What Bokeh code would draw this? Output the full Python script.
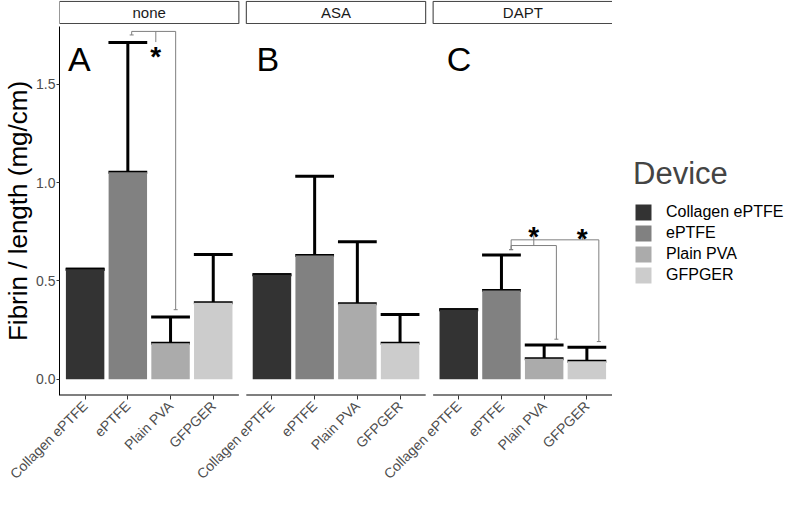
import math
from bokeh.plotting import figure
from bokeh.models import (ColumnDataSource, Range1d, FixedTicker, PrintfTickFormatter,
                          Whisker, TeeHead, Legend, LegendItem)
from bokeh.layouts import gridplot
from bokeh.core.properties import value
from bokeh.embed import file_html
from bokeh.resources import INLINE

# ---------------- data ----------------
devices = ["Collagen ePTFE", "ePTFE", "Plain PVA", "GFPGER"]
device_colors = ["#333333", "#818181", "#ABABAB", "#CCCCCC"]
treatments = ["none", "ASA", "DAPT"]
panel_letters = ["A", "B", "C"]
letter_x = [0.60, 0.64, 0.72]
letter_y = [1.63, 1.63, 1.63]

mean_none = [0.560, 1.052, 0.183, 0.389]
upper_none = [0.560, 1.712, 0.317, 0.634]
mean_asa = [0.532, 0.629, 0.384, 0.183]
upper_asa = [0.532, 1.032, 0.699, 0.330]
mean_dapt = [0.354, 0.451, 0.105, 0.092]
upper_dapt = [0.354, 0.632, 0.175, 0.163]
means = [mean_none, mean_asa, mean_dapt]
uppers = [upper_none, upper_asa, upper_dapt]

y_ticks = [0.0, 0.5, 1.0, 1.5]
y_title = "Fibrin / length (mg/cm)"
legend_title = "Device"

# significance brackets (positions within a panel)
br_panel = ["none", "DAPT", "DAPT"]
br_x0 = [2.09, 2.227, 2.227]
br_x1 = [3.12, 3.286, 4.28]
br_y = [1.768, 0.680, 0.709]
br_left_tip = [1.750, 0.659, 0.659]
br_right_end = [0.354, 0.204, 0.192]
br_mid_x = [2.655, 2.757, 3.893]
br_mid_end = [1.714, 0.732, 0.737]
star_y = [1.674, 0.762, 0.751]
star_label = ["*", "*", "*"]

# ---------------- layout ----------------
FONT = "Liberation Sans"
PANEL_PX = 181          # width of one facet panel
GAP_PX = 7.5            # gap between facet panels
LEFT = 54
FH = 374
BOT = 90
TOP = 2
STRIP_H = 24
LEG_W = 172

n = len(devices)
pad = 0.6                        # discrete axis expansion
span = n - 1 + 2 * pad           # panel width in data units
unit_px = PANEL_PX / span
gap = GAP_PX / unit_px
stride = span + gap
x_start = 1 - pad
x_end = x_start + len(treatments) * span + (len(treatments) - 1) * gap
frame_w = int(round((x_end - x_start) * unit_px))
fig_w = LEFT + frame_w

xr = Range1d(x_start, x_end)
yr = Range1d(-0.082, 1.793)
ppu = FH / (yr.end - yr.start)


def px(k, xloc):
    return k * stride + xloc


# ---- strip figure ----
strip = figure(width=fig_w, height=STRIP_H, x_range=xr, y_range=Range1d(-0.04, 1.04),
               toolbar_location=None, output_backend="svg",
               x_axis_location=None, y_axis_location=None,
               min_border_left=LEFT, min_border_right=0, min_border_top=0, min_border_bottom=0)
strip.grid.visible = False
strip.outline_line_color = None
strip.quad(left=[px(k, x_start) for k in range(len(treatments))],
           right=[px(k, x_start + span) for k in range(len(treatments))],
           bottom=0, top=1, fill_color="white", line_color="#333333", line_width=1)
strip.text(x=[px(k, x_start + span / 2) for k in range(len(treatments))], y=[0.5] * len(treatments),
           text=treatments, text_align="center", text_baseline="middle",
           text_font=value(FONT), text_font_size="15px", text_color="#1a1a1a")

# ---- main figure ----
p = figure(width=fig_w, height=TOP + FH + BOT, x_range=xr, y_range=yr,
           toolbar_location=None, output_backend="svg",
           min_border_left=LEFT, min_border_right=0, min_border_top=TOP, min_border_bottom=BOT)
p.grid.visible = False
p.outline_line_color = None

all_ticks, all_labels = [], []
for k, t in enumerate(treatments):
    xs = [px(k, i + 1) for i in range(n)]
    all_ticks += xs
    all_labels += devices
    src = ColumnDataSource(dict(x=xs, device=devices, mean=means[k], upper=uppers[k],
                                color=device_colors))
    p.vbar(x="x", top="mean", bottom=0, width=0.9, fill_color="color",
           line_color=None, source=src)
    p.add_layout(Whisker(source=src, base="x", lower="mean", upper="upper",
                         line_color="black", line_width=3,
                         upper_head=TeeHead(size=0.9 * unit_px, line_color="black", line_width=3),
                         lower_head=TeeHead(size=0.9 * unit_px, line_color="black", line_width=3)))
    # panel axis line
    p.segment(x0=[px(k, x_start)], y0=[yr.start], x1=[px(k, x_start + span)], y1=[yr.start],
              line_color="black", line_width=2)
    # panel letter
    p.text(x=[px(k, letter_x[k])], y=[letter_y[k]], text=[panel_letters[k]], text_align="left",
           text_baseline="alphabetic", text_font=value(FONT), text_font_size="34px",
           text_color="black")

# significance brackets
sx0, sy0, sx1, sy1 = [], [], [], []
stx, sty = [], []
tipx, tipy = [], []
for b in range(len(br_panel)):
    k = treatments.index(br_panel[b])
    x0, x1, xm = px(k, br_x0[b]), px(k, br_x1[b]), px(k, br_mid_x[b])
    sx0 += [x0, x0, x1, xm]
    sy0 += [br_y[b]] * 4
    sx1 += [x1, x0, x1, xm]
    sy1 += [br_y[b], br_left_tip[b], br_right_end[b], br_mid_end[b]]
    tipx += [x0, x1]
    tipy += [br_left_tip[b], br_right_end[b]]
    stx.append(xm)
    sty.append(star_y[b] - 7.0 / ppu)
p.segment(x0=sx0, y0=sy0, x1=sx1, y1=sy1, line_color="#7f7f7f", line_width=1)
p.scatter(x=tipx, y=tipy, marker="dash", size=4, line_color="#7f7f7f", line_width=1)
p.text(x=stx, y=sty, text=star_label, text_align="center", text_baseline="middle",
       text_font=value(FONT), text_font_size="28px", text_font_style="bold", text_color="black")

# x axis
p.xaxis.ticker = FixedTicker(ticks=all_ticks)
p.xaxis.major_label_overrides = {x: d for x, d in zip(all_ticks, all_labels)}
p.xaxis.major_label_orientation = math.pi / 4
p.xaxis.major_label_text_font = FONT
p.xaxis.major_label_text_font_size = "14px"
p.xaxis.major_label_text_color = "#4d4d4d"
p.xaxis.major_label_standoff = 4
p.xaxis.axis_line_color = None
p.xaxis.major_tick_line_color = "#333333"
p.xaxis.major_tick_out = 4
p.xaxis.major_tick_in = 0
p.xaxis.minor_tick_line_color = None

# y axis
p.yaxis.ticker = FixedTicker(ticks=y_ticks)
p.yaxis.formatter = PrintfTickFormatter(format="%.1f")
p.yaxis.axis_label = y_title
p.yaxis.axis_label_text_font = FONT
p.yaxis.axis_label_text_font_size = "26px"
p.yaxis.axis_label_text_font_style = "normal"
p.yaxis.axis_label_text_color = "black"
p.yaxis.axis_label_standoff = 0
p.yaxis.major_label_text_font = FONT
p.yaxis.major_label_text_font_size = "14px"
p.yaxis.major_label_text_color = "#4d4d4d"
p.yaxis.major_label_standoff = 1
p.yaxis.axis_line_color = "black"
p.yaxis.major_tick_line_color = "#333333"
p.yaxis.major_tick_out = 3
p.yaxis.major_tick_in = 0
p.yaxis.minor_tick_line_color = None

# ---- legend figure (frame is aligned with the main figure's frame) ----
lg = figure(width=LEG_W, height=TOP + FH + BOT, x_range=Range1d(0, 1), y_range=Range1d(0, 1),
            toolbar_location=None, output_backend="svg",
            x_axis_location=None, y_axis_location=None,
            min_border_left=0, min_border_right=0, min_border_top=TOP, min_border_bottom=BOT)
lg.grid.visible = False
lg.outline_line_color = None
lsrc = ColumnDataSource(dict(x=[0.5] * n, device=devices, color=device_colors))
lr = lg.vbar(x="x", top=0, bottom=0, width=0.0, fill_color="color", line_color=None, source=lsrc)
legend = Legend(items=[LegendItem(label=d, renderers=[lr], index=i) for i, d in enumerate(devices)],
                title=legend_title, location=(21, 110),
                title_text_font=FONT, title_text_font_size="31px",
                title_text_font_style="normal", title_standoff=10,
                label_text_font=FONT, label_text_font_size="16px", label_text_color="black",
                glyph_width=20, glyph_height=20, label_height=20,
                label_standoff=13, spacing=1, padding=2, margin=0,
                border_line_color=None, background_fill_alpha=0)
lg.add_layout(legend)

grid = gridplot([[strip, None], [p, lg]], toolbar_location=None, merge_tools=False)
open("out.html", "w").write(file_html(grid, INLINE))
